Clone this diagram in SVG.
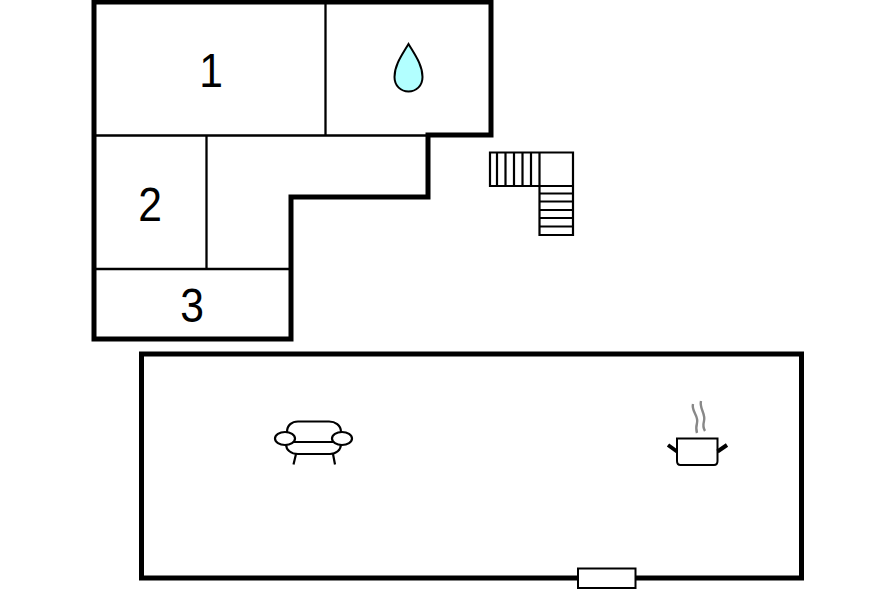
<svg xmlns="http://www.w3.org/2000/svg" width="896" height="597" viewBox="0 0 896 597">
<style>
.wall{fill:none;stroke:#000;stroke-width:5;stroke-linejoin:miter}
.thin{fill:none;stroke:#000;stroke-width:2.300}
.sym{fill:#fff;stroke:#000;stroke-width:2.200}
.lbl{font-family:"Liberation Sans",Arial,sans-serif;font-size:49px;fill:#000;text-anchor:middle}
</style>
<rect width="896" height="597" fill="#fff"/>
<g id="walls">
<path class="wall" d="M94 2H491V135H428V197H291V339H94Z"/>
<path class="wall" d="M141.500 354H801.500V578H141.500Z"/>
</g>
<g id="partitions">
<path class="thin" d="M95 135.500H428M325.500 3V135M206.500 135V269M95 269H291"/>
</g>
<g id="label-1"><text class="lbl" transform="translate(211 87) scale(.87 1)">1</text></g>
<g id="label-2"><text class="lbl" transform="translate(150 221) scale(.87 1)">2</text></g>
<g id="label-3"><text class="lbl" transform="translate(192 322) scale(.87 1)">3</text></g>
<g id="drop">
<path d="M408.500 44C402 55 394.500 65 394.500 77C394.500 86 401 91.500 408.500 91.500C416 91.500 422.500 86 422.500 77C422.500 65 415 55 408.500 44Z" fill="#b2ffff" stroke="#000" stroke-width="2"/>
</g>
<g id="stairs">
<path class="sym" d="M490 152.500H573V235H539.500V186H490Z"/>
<path class="sym" fill="none" d="M497 152.500V186M505.500 152.500V186M514 152.500V186M522.500 152.500V186M531 152.500V186M539.500 152.500V186M539.500 186H573M539.500 193.500H573M539.500 201.500H573M539.500 210H573M539.500 218H573M539.500 226.500H573"/>
</g>
<g id="sofa" fill="#fff" stroke="#000" stroke-width="2.200">
<path d="M287 432C287 425 292 421.500 298 421.500H329C335 421.500 341 425 341 432V444C341 450 336 454 330 454H298C291 454 286 450 286 444Z"/>
<path d="M294 442H333" fill="none"/>
<ellipse cx="285" cy="438.500" rx="10" ry="6.500"/>
<ellipse cx="342" cy="438.500" rx="10" ry="6.500"/>
<path d="M296 454L293.500 464.500M333 454L335 464.500" fill="none"/>
</g>
<g id="pot">
<path d="M677 438.500H717.500V461C717.500 463.500 716 465 714 465H680.500C678.500 465 677 463.500 677 461Z" fill="#fff" stroke="#000" stroke-width="2"/>
<path d="M668 445L677 451.500M727 445L717.500 451.500" fill="none" stroke="#000" stroke-width="4"/>
<path d="M693 404C691 411 699 416 697 423C696 427 696 430 697 433M701 401C699 408 706 414 704 421C703 425 703 428 705 431" fill="none" stroke="#888" stroke-width="2.400"/>
</g>
<g id="door">
<rect x="578" y="568.500" width="57.500" height="19.500" fill="#fff" stroke="#000" stroke-width="2"/>
</g>
</svg>
